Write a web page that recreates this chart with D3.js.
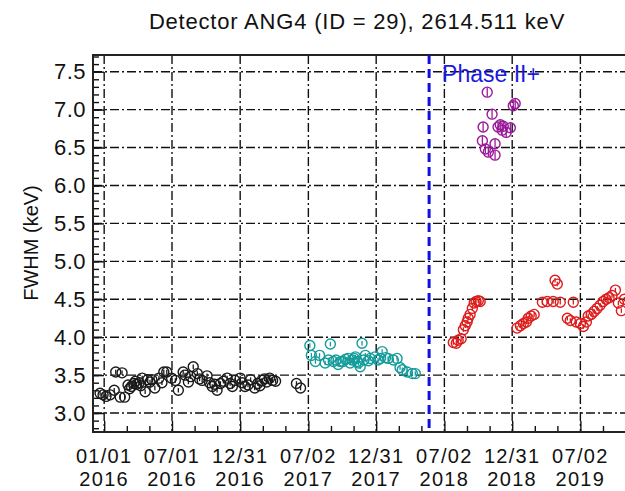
<!DOCTYPE html>
<html>
<head>
<meta charset="utf-8">
<script src="https://cdn.jsdelivr.net/npm/d3@7"></script>
<style>
  body { margin: 0; background: #fff; }
  text { font-family: "Liberation Sans", Arial, Helvetica, sans-serif; }
</style>
</head>
<body>
<script>
// black points: phase II
let blackDates = ['2015-12-21', '2015-12-29', '2016-01-06', '2016-01-17', '2016-01-28', '2016-02-01', '2016-02-13',
  '2016-02-18', '2016-02-25', '2016-03-05', '2016-03-09', '2016-03-14', '2016-03-21', '2016-03-25', '2016-03-28',
  '2016-04-04', '2016-04-08', '2016-04-12', '2016-04-20', '2016-04-27', '2016-05-03', '2016-05-08', '2016-05-16',
  '2016-05-27', '2016-06-04', '2016-06-09', '2016-06-17', '2016-06-30', '2016-07-10', '2016-07-18', '2016-07-31',
  '2016-08-05', '2016-08-14', '2016-08-20', '2016-08-27', '2016-09-07', '2016-09-13', '2016-09-20', '2016-10-03',
  '2016-10-10', '2016-10-17', '2016-10-24', '2016-10-30', '2016-11-08', '2016-11-16', '2016-11-26', '2016-12-04',
  '2016-12-10', '2016-12-17', '2016-12-31', '2017-01-05', '2017-01-13', '2017-01-21', '2017-01-28', '2017-02-08',
  '2017-02-16', '2017-02-22', '2017-02-27', '2017-03-06', '2017-03-12', '2017-03-20', '2017-03-28', '2017-04-05',
  '2017-05-31', '2017-06-11']
let blackValues = [3.26, 3.24, 3.22, 3.24, 3.30, 3.54, 3.21,
  3.53, 3.21, 3.37, 3.32, 3.35, 3.39, 3.42, 3.38,
  3.40, 3.36, 3.46, 3.28, 3.44, 3.41, 3.44, 3.33,
  3.46, 3.40, 3.54, 3.54, 3.46, 3.43, 3.30, 3.54,
  3.50, 3.41, 3.48, 3.61, 3.52, 3.45, 3.43, 3.49,
  3.40, 3.35, 3.38, 3.30, 3.39, 3.42, 3.46, 3.39,
  3.35, 3.43, 3.46, 3.40, 3.35, 3.37, 3.44, 3.33,
  3.39, 3.36, 3.43, 3.45, 3.41, 3.46, 3.43, 3.42,
  3.39, 3.33]

// teal points
let tealDates = ['2017-07-06', '2017-07-10', '2017-07-21', '2017-08-01', '2017-08-16', '2017-08-25', '2017-08-30',
  '2017-09-07', '2017-09-14', '2017-09-20', '2017-09-27', '2017-10-03', '2017-10-10', '2017-10-17', '2017-10-22',
  '2017-10-28', '2017-11-02', '2017-11-05', '2017-11-10', '2017-11-13', '2017-11-18', '2017-11-23', '2017-11-28',
  '2017-12-02', '2017-12-10', '2017-12-15', '2017-12-28', '2018-01-05', '2018-01-11', '2018-01-16', '2018-01-25',
  '2018-02-01', '2018-02-15', '2018-02-25', '2018-03-05', '2018-03-11', '2018-03-24', '2018-04-07', '2018-04-15']
let tealValues = [3.89, 3.76, 3.68, 3.76, 3.66, 3.70, 3.91,
  3.68, 3.70, 3.64, 3.68, 3.68, 3.71, 3.72, 3.66,
  3.70, 3.72, 3.74, 3.68, 3.66, 3.61, 3.92, 3.70,
  3.76, 3.69, 3.72, 3.74, 3.70, 3.72, 3.81, 3.73,
  3.72, 3.70, 3.72, 3.60, 3.57, 3.54, 3.52, 3.52]

// purple points: phase II+, high resolution values
let purpleDates = ['2018-10-12', '2018-10-14', '2018-10-20', '2018-10-25', '2018-10-28', '2018-11-07', '2018-11-15',
  '2018-11-15', '2018-11-23', '2018-11-29', '2018-12-04', '2018-12-07', '2018-12-15', '2018-12-26', '2019-01-03',
  '2019-01-08']
let purpleValues = [6.59, 6.77, 6.48, 7.23, 6.44, 6.94, 6.55,
  6.40, 6.77, 6.80, 6.73, 6.78, 6.70, 6.76, 7.05,
  7.08]

// red points: phase II+
let redDates = ['2018-07-26', '2018-08-03', '2018-08-08', '2018-08-16', '2018-08-22', '2018-08-27', '2018-09-01',
  '2018-09-04', '2018-09-09', '2018-09-15', '2018-09-20', '2018-09-25', '2018-10-01', '2018-10-06',
  '2019-01-13', '2019-01-22', '2019-01-30', '2019-02-07', '2019-02-12', '2019-02-20', '2019-02-28', '2019-03-22',
  '2019-04-04', '2019-04-20', '2019-04-25', '2019-05-01', '2019-05-09', '2019-05-28', '2019-06-05', '2019-06-13',
  '2019-06-21', '2019-07-02', '2019-07-10', '2019-07-18', '2019-07-23', '2019-07-31', '2019-08-08', '2019-08-16',
  '2019-08-24', '2019-09-01', '2019-09-09', '2019-09-17', '2019-09-25', '2019-10-04', '2019-10-12', '2019-10-20',
  '2019-10-28']
let redValues = [3.93, 3.92, 3.96, 3.98, 4.10, 4.15, 4.20,
  4.25, 4.30, 4.38, 4.45, 4.47, 4.48, 4.47,
  4.12, 4.15, 4.18, 4.20, 4.25, 4.28, 4.30, 4.46,
  4.47, 4.47, 4.75, 4.70, 4.46, 4.25, 4.22, 4.46,
  4.20, 4.18, 4.14, 4.20, 4.28, 4.30, 4.34, 4.38,
  4.42, 4.47, 4.50, 4.52, 4.55, 4.62, 4.45, 4.35,
  4.50]

// half length of the error bars (keV)
let blackError = 0.03
let tealError = 0.03
let purpleError = 0.06
let redError = 0.03

let majorTickDates = ['2016-01-01', '2016-07-01', '2016-12-31', '2017-07-02', '2017-12-31', '2018-07-02',
  '2018-12-31', '2019-07-02']
let tickLabelTop = ['01/01', '07/01', '12/31', '07/02', '12/31', '07/02', '12/31', '07/02']
let tickLabelBottom = ['2016', '2016', '2016', '2017', '2017', '2018', '2018', '2019']
let yMajorTicks = [3.0, 3.5, 4.0, 4.5, 5.0, 5.5, 6.0, 6.5, 7.0, 7.5]

let phaseDate = '2018-05-22'
let phaseLabel = 'Phase II+'
let titleText = 'Detector ANG4 (ID = 29), 2614.511 keV'
let yLabelText = 'FWHM (keV)'

let parseDate = d3.timeParse('%Y-%m-%d')

let width = 625
let height = 491
let plotLeft = 93
let plotRight = 640
let plotTop = 55
let plotBottom = 432

let svg = d3.select('body').append('svg')
  .attr('width', width)
  .attr('height', height)

let x = d3.scaleTime()
  .domain([parseDate('2015-12-02'), parseDate('2019-12-09')])
  .range([plotLeft, plotRight])

let y = d3.scaleLinear()
  .domain([2.75, 7.72])
  .range([plotBottom, plotTop])

let gridDash = '9,3,2,3'

/**
 * Draws dash-dot grid lines at major ticks.
 */
function drawGrid() {
  let g = svg.append('g')
  g.selectAll('line.hgrid')
    .data(yMajorTicks)
    .enter().append('line')
    .attr('x1', plotLeft).attr('x2', plotRight)
    .attr('y1', (d) => y(d)).attr('y2', (d) => y(d))
    .attr('stroke', '#111').attr('stroke-width', 1.4)
    .attr('stroke-dasharray', gridDash)
  g.selectAll('line.vgrid')
    .data(majorTickDates)
    .enter().append('line')
    .attr('x1', (d) => x(parseDate(d))).attr('x2', (d) => x(parseDate(d)))
    .attr('y1', plotTop).attr('y2', plotBottom)
    .attr('stroke', '#111').attr('stroke-width', 1.4)
    .attr('stroke-dasharray', gridDash)
}

/**
 * Draws the frame, inward ticks and tick labels.
 */
function drawAxes() {
  // minor y ticks every 0.1
  let yMinor = d3.range(28, 78).map((d) => d / 10)
  svg.append('g')
    .attr('transform', 'translate(' + plotLeft + ',0)')
    .call(d3.axisLeft(y).tickValues(yMinor).tickSize(-6).tickFormat(''))
  svg.append('g')
    .attr('class', 'yaxis')
    .attr('transform', 'translate(' + plotLeft + ',0)')
    .call(d3.axisLeft(y).tickValues(yMajorTicks).tickSize(-11).tickPadding(7).tickFormat(d3.format('.1f')))

  // minor x ticks at thirds between the major dates
  let majors = majorTickDates.map(parseDate)
  let step = majors[1] - majors[0]
  let xMinor = []
  majors.forEach((m) => {
    xMinor.push(new Date(+m + step / 3), new Date(+m + 2 * step / 3))
  })
  svg.append('g')
    .attr('transform', 'translate(0,' + plotBottom + ')')
    .call(d3.axisBottom(x).tickValues(xMinor).tickSize(-6).tickFormat(''))
  svg.append('g')
    .attr('transform', 'translate(0,' + plotBottom + ')')
    .call(d3.axisBottom(x).tickValues(majors).tickSize(-11).tickFormat(''))

  svg.selectAll('.domain').remove()
  svg.selectAll('.tick line').attr('stroke', '#111').attr('stroke-width', 1.4)
  svg.selectAll('.yaxis text')
    .attr('font-size', 22)
    .attr('letter-spacing', 0.5)
    .attr('fill', '#111')
    .attr('font-family', '"Liberation Sans", Arial, sans-serif')

  // two line date labels, one text per line
  let labels = svg.append('g')
    .attr('font-size', 20)
    .attr('letter-spacing', 1.3)
    .attr('fill', '#111')
    .attr('text-anchor', 'middle')
  majors.forEach((m, i) => {
    labels.append('text').attr('x', x(m)).attr('y', 463).text(tickLabelTop[i])
    labels.append('text').attr('x', x(m)).attr('y', 486).text(tickLabelBottom[i])
  })

  // frame
  svg.append('path')
    .attr('d', 'M' + plotRight + ',' + plotTop + 'H' + plotLeft + 'V' + plotBottom + 'H' + plotRight)
    .attr('fill', 'none')
    .attr('stroke', '#222')
    .attr('stroke-width', 2)
}

/**
 * Draws one series as open circles with small error bars.
 * @param dates - array of date strings.
 * @param values - array of FWHM values.
 * @param err - half length of error bar.
 * @param color - stroke color.
 */
function drawSeries(dates, values, err, color) {
  let pts = dates.map((d, i) => ({ date: parseDate(d), v: values[i] }))
  let g = svg.append('g')
  g.selectAll('line')
    .data(pts)
    .enter().append('line')
    .attr('x1', (d) => x(d.date)).attr('x2', (d) => x(d.date))
    .attr('y1', (d) => y(d.v - err)).attr('y2', (d) => y(d.v + err))
    .attr('stroke', color).attr('stroke-width', 1.3)
  g.selectAll('circle')
    .data(pts)
    .enter().append('circle')
    .attr('cx', (d) => x(d.date))
    .attr('cy', (d) => y(d.v))
    .attr('r', 5)
    .attr('fill', 'none')
    .attr('stroke', color)
    .attr('stroke-width', 1.4)
}

drawGrid()
drawAxes()

drawSeries(blackDates, blackValues, blackError, '#1a1a1a')
drawSeries(tealDates, tealValues, tealError, '#139c9a')
drawSeries(redDates, redValues, redError, '#dd1c1c')
drawSeries(purpleDates, purpleValues, purpleError, '#9a1a9a')

// phase II+ start
let phaseX = x(parseDate(phaseDate))
svg.append('line')
  .attr('x1', phaseX).attr('x2', phaseX)
  .attr('y1', plotTop).attr('y2', plotBottom)
  .attr('stroke', '#1010e0')
  .attr('stroke-width', 3)
  .attr('stroke-dasharray', '9,5')
svg.append('text')
  .attr('x', phaseX + 13)
  .attr('y', 82)
  .attr('font-size', 23)
  .attr('fill', '#1a1ae0')
  .text(phaseLabel)

svg.append('text')
  .attr('x', 357)
  .attr('y', 29)
  .attr('text-anchor', 'middle')
  .attr('font-size', 22)
  .attr('letter-spacing', 0.8)
  .attr('fill', '#111')
  .text(titleText)

svg.append('text')
  .attr('transform', 'translate(38,243) rotate(-90)')
  .attr('text-anchor', 'middle')
  .attr('font-size', 20)
  .attr('fill', '#111')
  .text(yLabelText)
</script>
</body>
</html>
